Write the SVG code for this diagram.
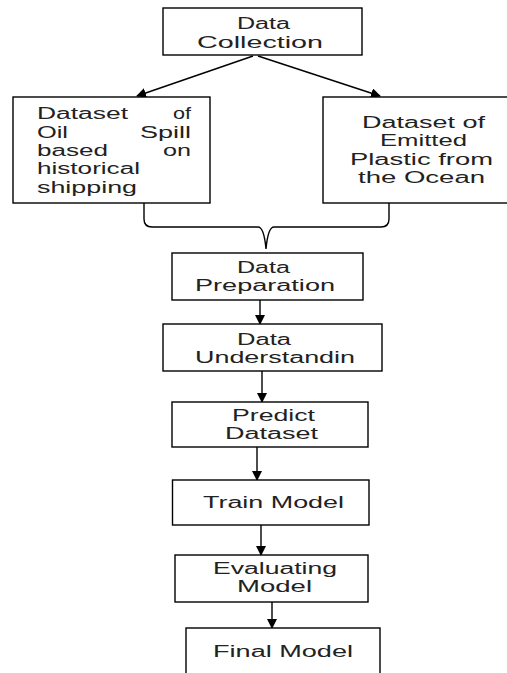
<svg xmlns="http://www.w3.org/2000/svg" width="507" height="673" viewBox="0 0 507 673">
<style>
.box{fill:#fff;stroke:#000;stroke-width:1.4}
.t{font-family:"Liberation Sans",Arial,sans-serif;font-size:16px;fill:#222;}
.c{fill:none;stroke:#000;stroke-width:1.4}
</style>
<defs>
<marker id="ah" markerWidth="10" markerHeight="10" refX="9" refY="5" orient="auto" markerUnits="userSpaceOnUse">
<path d="M0,0 L10,5 L0,10 Z" fill="#000"/>
</marker>
</defs>
<rect width="507" height="673" fill="#fff"/>
<g id="connectors">
<line class="c" x1="253" y1="56" x2="137" y2="96" marker-end="url(#ah)"/>
<line class="c" x1="258" y1="56" x2="380" y2="96" marker-end="url(#ah)"/>
<path class="c" d="M144,203 V219 Q144,227 152,227 H258 Q264,227 266,249 Q268,227 274,227 H381 Q389,227 389,219 V203"/>
<line class="c" x1="260" y1="300" x2="260" y2="324" marker-end="url(#ah)"/>
<line class="c" x1="262" y1="371" x2="262" y2="402" marker-end="url(#ah)"/>
<line class="c" x1="257" y1="447" x2="257" y2="480" marker-end="url(#ah)"/>
<line class="c" x1="261" y1="525" x2="261" y2="555" marker-end="url(#ah)"/>
<line class="c" x1="272" y1="602" x2="272" y2="628" marker-end="url(#ah)"/>
</g>
<g id="data-collection">
<rect class="box" x="163" y="8" width="199" height="47"/>
<text class="t" x="237" y="29.3" textLength="53" lengthAdjust="spacingAndGlyphs">Data</text>
<text class="t" x="197" y="47.7" textLength="126" lengthAdjust="spacingAndGlyphs">Collection</text>
</g>
<g id="oil-spill">
<rect class="box" x="13" y="97" width="197" height="106"/>
<text class="t" x="37" y="119.3" textLength="91" lengthAdjust="spacingAndGlyphs">Dataset</text>
<text class="t" x="173" y="119.3" textLength="18" lengthAdjust="spacingAndGlyphs">of</text>
<text class="t" x="37" y="137.7" textLength="31" lengthAdjust="spacingAndGlyphs">Oil</text>
<text class="t" x="140" y="137.7" textLength="51" lengthAdjust="spacingAndGlyphs">Spill</text>
<text class="t" x="37" y="156" textLength="71" lengthAdjust="spacingAndGlyphs">based</text>
<text class="t" x="163" y="156" textLength="28" lengthAdjust="spacingAndGlyphs">on</text>
<text class="t" x="37" y="174.3" textLength="103" lengthAdjust="spacingAndGlyphs">historical</text>
<text class="t" x="37" y="192.7" textLength="100" lengthAdjust="spacingAndGlyphs">shipping</text>
</g>
<g id="emitted-plastic">
<rect class="box" x="323" y="97" width="190" height="106"/>
<text class="t" x="362" y="128" textLength="123" lengthAdjust="spacingAndGlyphs">Dataset of</text>
<text class="t" x="380" y="146.3" textLength="87" lengthAdjust="spacingAndGlyphs">Emitted</text>
<text class="t" x="350" y="164.7" textLength="143" lengthAdjust="spacingAndGlyphs">Plastic from</text>
<text class="t" x="358" y="183" textLength="127" lengthAdjust="spacingAndGlyphs">the Ocean</text>
</g>
<g id="data-preparation">
<rect class="box" x="172" y="253" width="191" height="47"/>
<text class="t" x="237" y="273" textLength="53" lengthAdjust="spacingAndGlyphs">Data</text>
<text class="t" x="195" y="291" textLength="140" lengthAdjust="spacingAndGlyphs">Preparation</text>
</g>
<g id="data-understanding">
<rect class="box" x="163" y="324" width="219" height="47"/>
<text class="t" x="237" y="345" textLength="54" lengthAdjust="spacingAndGlyphs">Data</text>
<text class="t" x="195" y="363" textLength="160" lengthAdjust="spacingAndGlyphs">Understandin</text>
</g>
<g id="predict-dataset">
<rect class="box" x="172" y="402" width="196" height="45"/>
<text class="t" x="232" y="421" textLength="83" lengthAdjust="spacingAndGlyphs">Predict</text>
<text class="t" x="225" y="438.5" textLength="93" lengthAdjust="spacingAndGlyphs">Dataset</text>
</g>
<g id="train-model">
<rect class="box" x="172.5" y="480" width="196.5" height="45"/>
<text class="t" x="203" y="507.5" textLength="141" lengthAdjust="spacingAndGlyphs">Train Model</text>
</g>
<g id="evaluating-model">
<rect class="box" x="175" y="555" width="193" height="47"/>
<text class="t" x="213" y="574" textLength="124" lengthAdjust="spacingAndGlyphs">Evaluating</text>
<text class="t" x="237" y="592" textLength="75" lengthAdjust="spacingAndGlyphs">Model</text>
</g>
<g id="final-model">
<rect class="box" x="186" y="628" width="194" height="60"/>
<text class="t" x="213" y="657" textLength="140" lengthAdjust="spacingAndGlyphs">Final Model</text>
</g>
</svg>
